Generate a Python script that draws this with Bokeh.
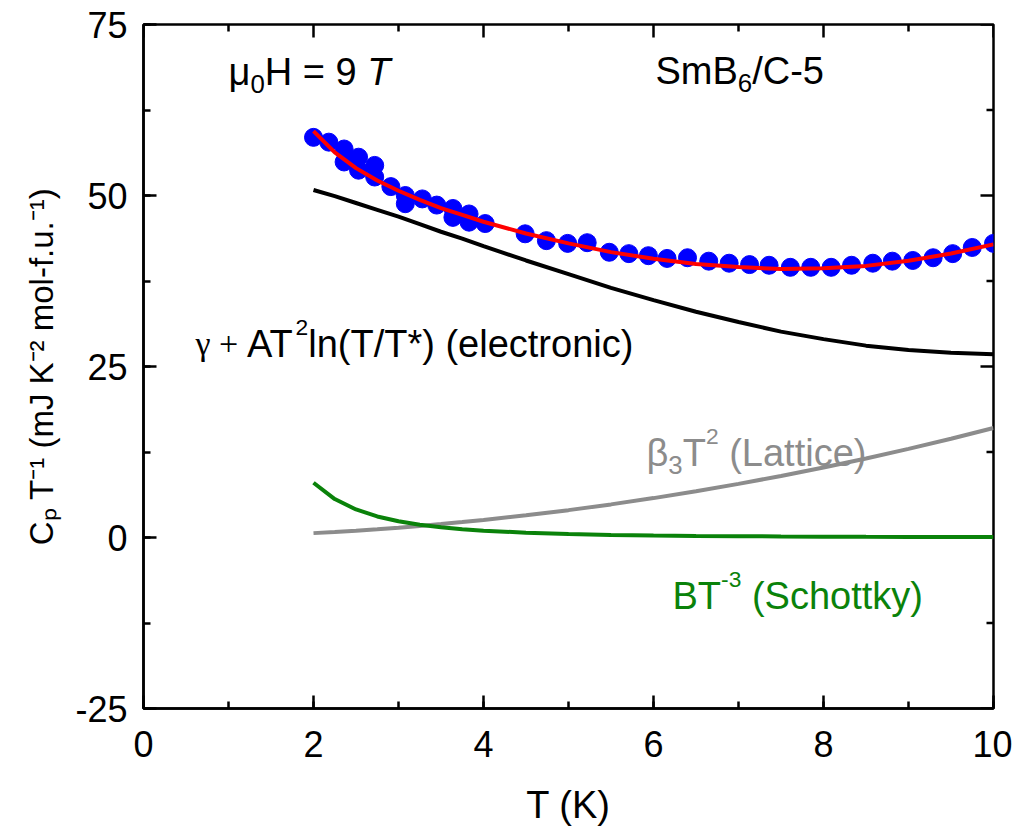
from bokeh.plotting import figure
from bokeh.models import Range1d, SingleIntervalTicker, Label
from bokeh.embed import file_html
from bokeh.resources import INLINE

# ---------------- data ----------------
T_pts = [2.0, 2.18, 2.36, 2.36, 2.53, 2.53, 2.72, 2.72, 2.91, 3.08, 3.08, 3.28, 3.45,
         3.64, 3.64, 3.83, 3.83, 4.02, 4.49, 4.74, 4.99, 5.22, 5.48, 5.71, 5.94, 6.16,
         6.40, 6.65, 6.89, 7.13, 7.36, 7.61, 7.85, 8.09, 8.33, 8.58, 8.81, 9.05, 9.29,
         9.52, 9.75, 10.0]
C_pts = [58.5, 57.8, 56.8, 54.9, 55.6, 53.7, 54.4, 52.7, 51.3, 50.0, 48.8, 49.5, 48.6,
         48.1, 46.8, 47.3, 46.1, 45.9, 44.4, 43.4, 43.0, 43.1, 41.7, 41.5, 41.2, 40.8,
         40.9, 40.4, 40.1, 39.9, 39.8, 39.5, 39.5, 39.5, 39.8, 40.1, 40.4, 40.5, 40.9,
         41.5, 42.4, 43.0]

T_fit = [2.0, 2.25, 2.5, 2.75, 3.0, 3.25, 3.5, 3.75, 4.0, 4.5, 5.0, 5.5, 6.0, 6.5,
         7.0, 7.5, 8.0, 8.5, 9.0, 9.5, 10.0]
total_fit = [59.4, 56.3, 54.0, 52.2, 50.7, 49.35, 48.15, 47.16, 46.16, 44.44, 43.0,
             41.72, 40.76, 40.0, 39.53, 39.25, 39.37, 39.71, 40.45, 41.52, 42.86]
electronic = [50.8, 49.9, 48.9, 47.9, 46.9, 45.8, 44.7, 43.7, 42.6, 40.5, 38.5, 36.5,
              34.7, 33.0, 31.5, 30.1, 29.0, 28.05, 27.4, 27.0, 26.8]
lattice = [0.64, 0.81, 1.0, 1.21, 1.44, 1.69, 1.96, 2.25, 2.56, 3.24, 4.0, 4.84, 5.76,
           6.76, 7.84, 9.0, 10.24, 11.56, 12.96, 14.44, 16.0]
schottky = [8.0, 5.62, 4.1, 3.08, 2.37, 1.86, 1.49, 1.21, 1.0, 0.70, 0.51, 0.38, 0.30,
            0.23, 0.19, 0.15, 0.125, 0.10, 0.09, 0.075, 0.064]

x_major = [0, 2, 4, 6, 8, 10]
x_minor = [1, 3, 5, 7, 9]
y_major = [-25, 0, 25, 50, 75]
y_minor = [-12.5, 12.5, 37.5, 62.5]

# ---------------- layout ----------------
BL, BT, BR, BB = 143, 24, 19, 118
FW, FH = 850, 684
X0, X1, Y0, Y1 = 0, 10, -25, 75
FONT = "Liberation Sans"

p = figure(frame_width=FW, frame_height=FH,
           x_range=Range1d(X0, X1), y_range=Range1d(Y0, Y1),
           output_backend="svg", toolbar_location=None,
           min_border_left=BL, min_border_right=BR,
           min_border_top=BT, min_border_bottom=BB)
p.background_fill_color = "white"
p.border_fill_color = "white"
p.outline_line_color = "black"
p.outline_line_width = 2.5
p.xgrid.visible = False
p.ygrid.visible = False


def style_axis(ax):
    ax.major_tick_in = 13
    ax.major_tick_out = 0
    ax.minor_tick_in = 7
    ax.minor_tick_out = 0
    ax.major_tick_line_width = 2.5
    ax.minor_tick_line_width = 2.5
    ax.axis_line_width = 2.5
    ax.major_tick_line_color = "black"
    ax.minor_tick_line_color = "black"
    ax.axis_line_color = "black"
    ax.major_label_text_font = FONT
    ax.major_label_text_color = "black"
    ax.major_label_text_font_size = "36px"


xax = p.xaxis[0]
xax.ticker = SingleIntervalTicker(interval=2, num_minor_ticks=2)
style_axis(xax)
xax.major_label_standoff = 22
xax.axis_label = "T (K)"
xax.axis_label_text_font = FONT
xax.axis_label_text_font_size = "38px"
xax.axis_label_text_font_style = "normal"
xax.axis_label_text_color = "black"
xax.axis_label_standoff = 24

yax = p.yaxis[0]
yax.ticker = SingleIntervalTicker(interval=25, num_minor_ticks=2)
style_axis(yax)
yax.major_label_standoff = 16
yax.major_label_overrides = {-25: "-25"}
yax.axis_label = "Cₚ T⁻¹ (mJ K⁻² mol-f.u.⁻¹)"
yax.axis_label_text_font = FONT
yax.axis_label_text_font_size = "33px"
yax.axis_label_text_font_style = "normal"
yax.axis_label_text_color = "black"
yax.axis_label_standoff = 12

# mirrored ticks on top and right edges (lengths converted from pixels)
maj_y = 13 * (Y1 - Y0) / FH
min_y = 7 * (Y1 - Y0) / FH
maj_x = 13 * (X1 - X0) / FW
min_x = 7 * (X1 - X0) / FW
p.segment(x_major, [Y1] * len(x_major), x_major, [Y1 - maj_y] * len(x_major),
          line_color="black", line_width=2.5)
p.segment(x_minor, [Y1] * len(x_minor), x_minor, [Y1 - min_y] * len(x_minor),
          line_color="black", line_width=2.5)
p.segment([X1] * len(y_major), y_major, [X1 - maj_x] * len(y_major), y_major,
          line_color="black", line_width=2.5)
p.segment([X1] * len(y_minor), y_minor, [X1 - min_x] * len(y_minor), y_minor,
          line_color="black", line_width=2.5)

# ---------------- glyphs ----------------
p.line(T_fit, electronic, line_color="black", line_width=4)
p.line(T_fit, lattice, line_color="#8c8c8c", line_width=4)
p.line(T_fit, schottky, line_color="#0a820a", line_width=4)
p.scatter(T_pts, C_pts, size=18, fill_color="#0000ff", line_color="#0000ff")
p.line(T_fit, total_fit, line_color="#ff0000", line_width=4)

# ---------------- rich text helper ----------------
ARIAL = {' ': 278, '(': 333, ')': 333, '*': 389, '+': 584, '-': 333, '.': 278, '/': 278,
         '=': 584, 'A': 667, 'B': 667, 'C': 722, 'H': 722, 'J': 500, 'K': 667, 'L': 556,
         'S': 667, 'T': 611, 'a': 556, 'c': 500, 'e': 556, 'f': 278, 'h': 556, 'i': 222,
         'k': 500, 'l': 222, 'm': 833, 'n': 556, 'o': 556, 'p': 556, 'r': 333, 't': 278,
         'u': 556, 'y': 500, 'μ': 576, 'β': 575, 'γ': 500}
SERIF = {' ': 250, '+': 564, 'γ': 450}


def text_width(s, size, serif=False):
    tbl = SERIF if serif else ARIAL
    return sum(tbl.get(ch, 556) for ch in s) / 1000.0 * size


def px2x(px):  # page x -> data x
    return X0 + (px - BL) / FW * (X1 - X0)


def py2y(py):  # page y -> data y
    return Y1 - (py - BT) / FH * (Y1 - Y0)


def rich(pieces, x_px, y_px, size, color):
    adv = 0.0
    for piece in pieces:
        text, kind = piece[0], piece[1]
        opts = piece[2] if len(piece) > 2 else {}
        scale = {"sub": 0.68, "sup": 0.6}.get(kind, 1.0)
        s = opts.get("size", size * scale)
        shift = {"sub": -0.32 * size, "sup": 0.42 * size}.get(kind, 0.0)
        serif = opts.get("serif", False)
        lead = len(text) - len(text.lstrip(" "))
        adv += text_width(" " * lead, s, serif)
        body = text.lstrip(" ")
        lab = Label(x=px2x(x_px + adv), y=py2y(y_px - shift), text=body,
                    text_font="Liberation Serif" if serif else FONT,
                    text_font_size=f"{s:.1f}px", text_color=color,
                    text_font_style=opts.get("style", "normal"),
                    text_align="left", text_baseline="alphabetic")
        p.add_layout(lab)
        adv += text_width(body, s, serif)


rich([("μ", "n"), ("0", "sub"), ("H = 9 ", "n"), ("T", "n", {"style": "italic"})],
     228, 71, 38, "black")
rich([("SmB", "n"), ("6", "sub"), ("/C-5", "n")], 655, 70, 38, "black")
rich([("γ + ", "n", {"serif": True, "size": 34}), ("AT", "n"), ("2", "sup"),
      ("ln(T/T*) (electronic)", "n")], 195, 343, 38, "black")
rich([("β", "n"), ("3", "sub"), ("T", "n"), ("2", "sup"), (" (Lattice)", "n")],
     646, 452, 38, "#8c8c8c")
rich([("BT", "n"), ("-3", "sup"), (" (Schottky)", "n")], 672, 595, 38, "#0a820a")

open("out.html", "w").write(file_html(p, INLINE))
